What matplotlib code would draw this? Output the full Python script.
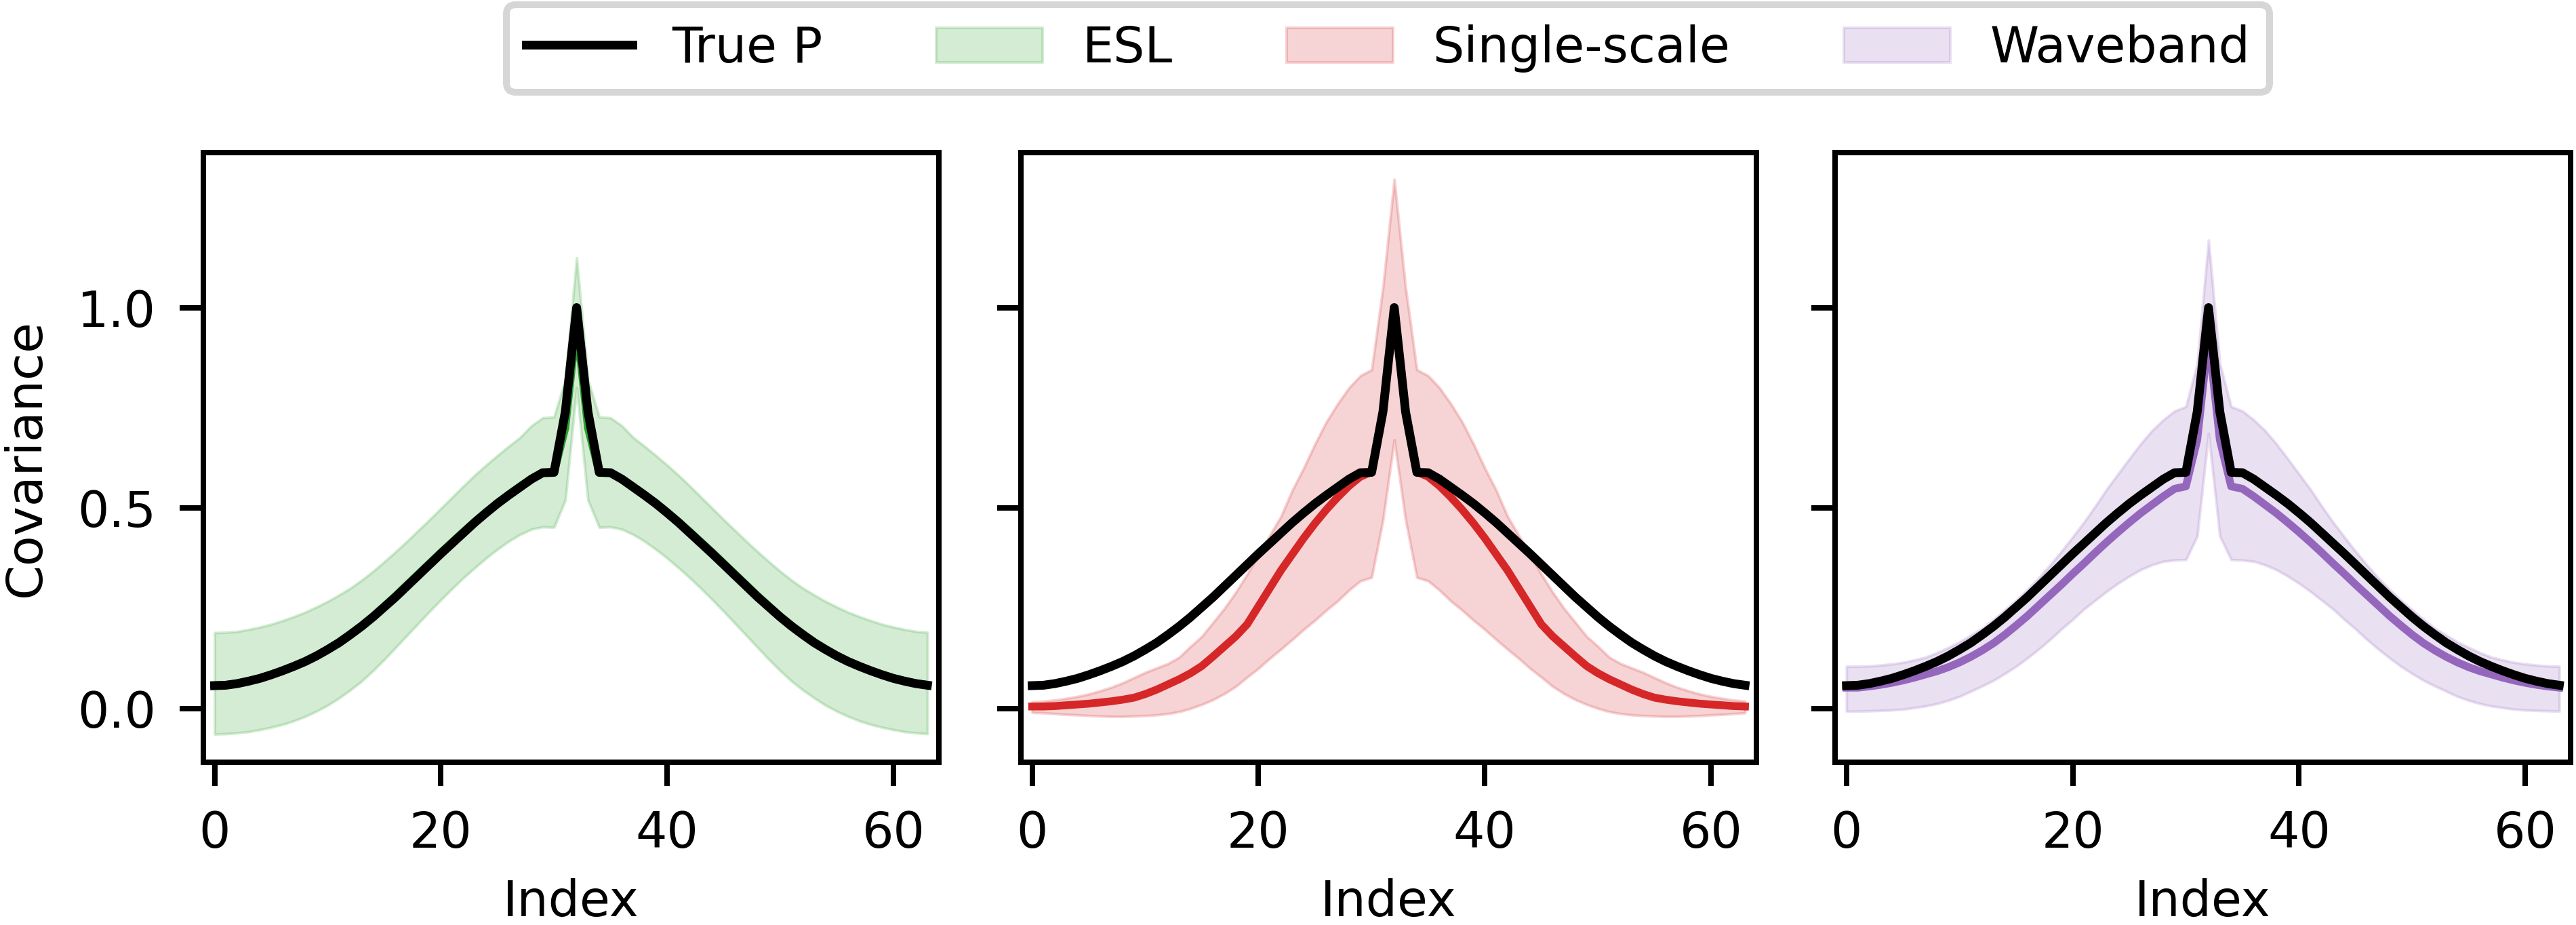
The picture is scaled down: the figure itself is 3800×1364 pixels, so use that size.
import numpy as np
import matplotlib
matplotlib.use('Agg')
import matplotlib.pyplot as plt

# grid index (0..63)
index = np.arange(64)

# true covariance row
true_p = [0.057, 0.058, 0.062, 0.068, 0.075, 0.084, 0.094, 0.105, 0.117, 0.131,
          0.147, 0.164, 0.184, 0.205, 0.228, 0.253, 0.278, 0.305, 0.332, 0.359,
          0.386, 0.412, 0.438, 0.464, 0.488, 0.511, 0.532, 0.552, 0.572, 0.588,
          0.589, 0.74, 1.0, 0.74, 0.589, 0.588, 0.572, 0.552, 0.532, 0.511,
          0.488, 0.464, 0.438, 0.412, 0.386, 0.359, 0.332, 0.305, 0.278, 0.253,
          0.228, 0.205, 0.184, 0.164, 0.147, 0.131, 0.117, 0.105, 0.094, 0.084,
          0.075, 0.068, 0.062, 0.058]

# ESL
esl_mean = [0.058, 0.059, 0.063, 0.069, 0.076, 0.085, 0.095, 0.106, 0.118, 0.132,
            0.148, 0.166, 0.186, 0.207, 0.230, 0.255, 0.281, 0.308, 0.335, 0.362,
            0.389, 0.415, 0.441, 0.466, 0.490, 0.513, 0.534, 0.554, 0.573, 0.588,
            0.588, 0.70, 0.96, 0.70, 0.588, 0.588, 0.573, 0.554, 0.534, 0.513,
            0.490, 0.466, 0.441, 0.415, 0.389, 0.362, 0.335, 0.308, 0.281, 0.255,
            0.230, 0.207, 0.186, 0.166, 0.148, 0.132, 0.118, 0.106, 0.095, 0.085,
            0.076, 0.069, 0.063, 0.059]
esl_high = [0.189, 0.190, 0.192, 0.197, 0.203, 0.210, 0.219, 0.229, 0.240, 0.253,
            0.267, 0.283, 0.300, 0.320, 0.342, 0.366, 0.391, 0.417, 0.444, 0.471,
            0.499, 0.527, 0.555, 0.582, 0.607, 0.631, 0.654, 0.676, 0.705, 0.725,
            0.727, 0.82, 1.124, 0.82, 0.727, 0.725, 0.705, 0.676, 0.654, 0.631,
            0.607, 0.582, 0.555, 0.527, 0.499, 0.471, 0.444, 0.417, 0.391, 0.366,
            0.342, 0.320, 0.300, 0.283, 0.267, 0.253, 0.240, 0.229, 0.219, 0.210,
            0.203, 0.197, 0.192, 0.190]
esl_low = [-0.064, -0.063, -0.061, -0.058, -0.053, -0.047, -0.040, -0.031, -0.020, -0.007,
           0.008, 0.026, 0.046, 0.068, 0.094, 0.122, 0.152, 0.182, 0.212, 0.242,
           0.271, 0.299, 0.326, 0.351, 0.375, 0.397, 0.417, 0.434, 0.447, 0.453,
           0.452, 0.52, 0.80, 0.52, 0.452, 0.453, 0.447, 0.434, 0.417, 0.397,
           0.375, 0.351, 0.326, 0.299, 0.271, 0.242, 0.212, 0.182, 0.152, 0.122,
           0.094, 0.068, 0.046, 0.026, 0.008, -0.007, -0.020, -0.031, -0.040, -0.047,
           -0.053, -0.058, -0.061, -0.063]

# Single-scale
single_mean = [0.005, 0.005, 0.006, 0.008, 0.010, 0.012, 0.015, 0.018, 0.022, 0.027,
               0.036, 0.047, 0.060, 0.073, 0.088, 0.106, 0.130, 0.155, 0.180, 0.210,
               0.255, 0.300, 0.345, 0.385, 0.425, 0.462, 0.496, 0.527, 0.555, 0.578,
               0.590, 0.74, 1.0, 0.74, 0.590, 0.578, 0.555, 0.527, 0.496, 0.462,
               0.425, 0.385, 0.345, 0.300, 0.255, 0.210, 0.180, 0.155, 0.130, 0.106,
               0.088, 0.073, 0.060, 0.047, 0.036, 0.027, 0.022, 0.018, 0.015, 0.012,
               0.010, 0.008, 0.006, 0.005]
single_high = [0.016, 0.018, 0.021, 0.025, 0.030, 0.036, 0.044, 0.053, 0.064, 0.077,
               0.090, 0.101, 0.112, 0.128, 0.155, 0.180, 0.215, 0.250, 0.290, 0.335,
               0.385, 0.432, 0.480, 0.545, 0.600, 0.660, 0.715, 0.760, 0.800, 0.830,
               0.845, 1.05, 1.32, 1.05, 0.845, 0.830, 0.800, 0.760, 0.715, 0.660,
               0.600, 0.545, 0.480, 0.432, 0.385, 0.335, 0.290, 0.250, 0.215, 0.180,
               0.155, 0.128, 0.112, 0.101, 0.090, 0.077, 0.064, 0.053, 0.044, 0.036,
               0.030, 0.025, 0.021, 0.018]
single_low = [-0.010, -0.011, -0.013, -0.015, -0.016, -0.018, -0.019, -0.020, -0.020, -0.019,
              -0.018, -0.016, -0.013, -0.008, 0.000, 0.010, 0.022, 0.037, 0.055, 0.078,
              0.100, 0.125, 0.148, 0.172, 0.197, 0.220, 0.245, 0.268, 0.295, 0.318,
              0.327, 0.47, 0.67, 0.47, 0.327, 0.318, 0.295, 0.268, 0.245, 0.220,
              0.197, 0.172, 0.148, 0.125, 0.100, 0.078, 0.055, 0.037, 0.022, 0.010,
              0.000, -0.008, -0.013, -0.016, -0.018, -0.019, -0.020, -0.020, -0.019, -0.018,
              -0.016, -0.015, -0.013, -0.011]

# Waveband
wave_mean = [0.052, 0.052, 0.055, 0.059, 0.064, 0.070, 0.077, 0.085, 0.093, 0.103,
             0.115, 0.129, 0.145, 0.163, 0.184, 0.207, 0.231, 0.257, 0.283, 0.309,
             0.336, 0.362, 0.389, 0.415, 0.440, 0.464, 0.487, 0.508, 0.529, 0.548,
             0.554, 0.67, 0.93, 0.67, 0.554, 0.548, 0.529, 0.508, 0.487, 0.464,
             0.440, 0.415, 0.389, 0.362, 0.336, 0.309, 0.283, 0.257, 0.231, 0.207,
             0.184, 0.163, 0.145, 0.129, 0.115, 0.103, 0.093, 0.085, 0.077, 0.070,
             0.064, 0.059, 0.055, 0.052]
wave_high = [0.105, 0.105, 0.106, 0.108, 0.111, 0.115, 0.121, 0.128, 0.139, 0.152,
             0.166, 0.183, 0.200, 0.222, 0.246, 0.270, 0.297, 0.326, 0.358, 0.392,
             0.428, 0.465, 0.505, 0.547, 0.585, 0.623, 0.660, 0.693, 0.720, 0.742,
             0.753, 0.86, 1.168, 0.86, 0.753, 0.742, 0.720, 0.693, 0.660, 0.623,
             0.585, 0.547, 0.505, 0.465, 0.428, 0.392, 0.358, 0.326, 0.297, 0.270,
             0.246, 0.222, 0.200, 0.183, 0.166, 0.152, 0.139, 0.128, 0.121, 0.115,
             0.111, 0.108, 0.106, 0.105]
wave_low = [-0.007, -0.007, -0.006, -0.005, -0.004, -0.002, 0.002, 0.006, 0.012, 0.020,
            0.030, 0.043, 0.056, 0.070, 0.087, 0.105, 0.126, 0.148, 0.172, 0.198,
            0.222, 0.248, 0.270, 0.292, 0.312, 0.330, 0.346, 0.358, 0.367, 0.370,
            0.371, 0.43, 0.686, 0.43, 0.371, 0.370, 0.367, 0.358, 0.346, 0.330,
            0.312, 0.292, 0.270, 0.248, 0.222, 0.198, 0.172, 0.148, 0.126, 0.105,
            0.087, 0.070, 0.056, 0.043, 0.030, 0.020, 0.012, 0.006, 0.002, -0.002,
            -0.004, -0.005, -0.006, -0.007]

methods = ['ESL', 'Single-scale', 'Waveband']
colors = ['tab:green', 'tab:red', 'tab:purple']
means = [esl_mean, single_mean, wave_mean]
lows = [esl_low, single_low, wave_low]
highs = [esl_high, single_high, wave_high]

plt.rcParams['font.size'] = 7.3

fig = plt.figure(figsize=(3800 / 720, 1364 / 720))
lefts = [0.0789, 0.3963, 0.7124]

bands = []
for k, left in enumerate(lefts):
    ax = fig.add_axes([left, 0.176, 0.2855, 0.6588])
    band = ax.fill_between(index, lows[k], highs[k], color=colors[k], alpha=0.2, lw=0.4)
    bands.append(band)
    ax.plot(index, means[k], color=colors[k], lw=1.15)
    true_line, = ax.plot(index, true_p, color='black', lw=1.3)
    ax.set_xlim(-1, 64)
    ax.set_ylim(-0.134, 1.386)
    ax.set_xticks([0, 20, 40, 60])
    ax.set_yticks([0.0, 0.5, 1.0])
    ax.set_xlabel('Index', labelpad=3.0)
    if k == 0:
        ax.set_ylabel('Covariance')
    else:
        ax.tick_params(labelleft=False)

fig.legend([true_line] + bands, ['True P'] + methods, loc='upper center',
           bbox_to_anchor=(0.5388, 0.995), ncol=4, borderaxespad=0,
           handlelength=2.15, columnspacing=2.3)

fig.savefig('out.png', dpi=720)
